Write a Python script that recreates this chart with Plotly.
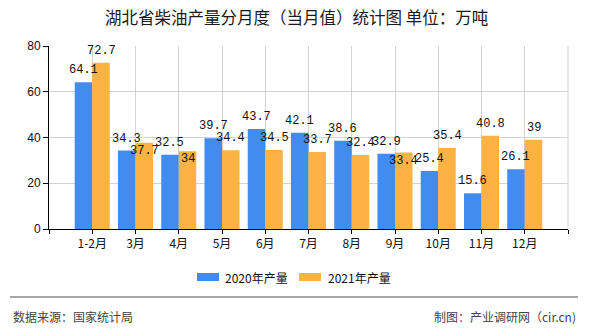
import plotly.graph_objects as go

categories = ["1-2月", "3月", "4月", "5月", "6月", "7月", "8月", "9月", "10月", "11月", "12月"]
values_2020 = [64.1, 34.3, 32.5, 39.7, 43.7, 42.1, 38.6, 32.9, 25.4, 15.6, 26.1]
values_2021 = [72.7, 37.7, 34, 34.4, 34.5, 33.7, 32.4, 33.4, 35.4, 40.8, 39]
series_names = ["2020年产量", "2021年产量"]
colors = ["#428BEF", "#FCB344"]
y_ticks = [0, 20, 40, 60, 80]

W, H = 590, 330
L, R, T, B = 49, 568, 46, 229  # plot area in pixels


def px(xp):
    return (xp - L) / (R - L)


def py(yp):
    return (B - yp) / (B - T)


BARGAP = 0.19
xs = list(range(len(categories)))

fig = go.Figure()
for name, vals, col in zip(series_names, [values_2020, values_2021], colors):
    fig.add_trace(go.Bar(x=xs, y=vals, name=name, marker=dict(color=col, line=dict(width=0)),
                         showlegend=False))

# value labels
half = (1 - BARGAP) / 4
label_font = dict(family="Liberation Mono, DejaVu Sans Mono, monospace", size=12, color="#111")
annotations = []
for i, (a, b) in enumerate(zip(values_2020, values_2021)):
    annotations.append(dict(x=i - half, y=a, text=str(a), showarrow=False, xref="x", yref="y",
                            yanchor="middle", yshift=12, font=label_font))
    collide = abs(a - b) < 5
    annotations.append(dict(x=i + half, y=b, text=str(b), showarrow=False, xref="x", yref="y",
                            yanchor="middle", yshift=-8 if collide else 12, font=label_font))

cjk = "Noto Sans CJK SC, sans-serif"
# title
annotations.append(dict(x=px(296), y=py(17), xref="paper", yref="paper", text="湖北省柴油产量分月度（当月值）统计图 单位：万吨",
                        showarrow=False, xanchor="center", yanchor="middle",
                        font=dict(family=cjk, size=16.5, color="#1a1a1a")))
# legend texts
leg = [(197, 219, 223), (299, 321, 326)]
shapes = []
for (x0, x1, xt), name, col in zip(leg, series_names, colors):
    shapes.append(dict(type="rect", xref="paper", yref="paper", x0=px(x0), x1=px(x1),
                       y0=py(281), y1=py(273), fillcolor=col, line=dict(width=0)))
    annotations.append(dict(x=px(xt), y=py(277), xref="paper", yref="paper", text=name, showarrow=False,
                            xanchor="left", yanchor="middle", font=dict(family=cjk, size=12, color="#111")))
# right border line
shapes.append(dict(type="line", xref="paper", yref="paper", x0=1, x1=1, y0=0, y1=1,
                   line=dict(color="#D3D3D3", width=1)))
# footer separator
shapes.append(dict(type="line", xref="paper", yref="paper", x0=px(10), x1=px(578), y0=py(297), y1=py(297),
                   line=dict(color="#888888", width=1.5)))
annotations.append(dict(x=px(11), y=py(316), xref="paper", yref="paper", text="数据来源：国家统计局", showarrow=False,
                        xanchor="left", yanchor="middle", font=dict(family=cjk, size=12, color="#444")))
annotations.append(dict(x=px(578), y=py(316), xref="paper", yref="paper", text="制图：产业调研网（cir.cn)", showarrow=False,
                        xanchor="right", yanchor="middle", font=dict(family=cjk, size=12, color="#444")))

tickvals = [-1] + xs + [len(categories)]
ticktext = [""] + categories + [""]

fig.update_layout(
    width=W, height=H, autosize=False,
    margin=dict(l=L, r=W - R, t=T, b=H - B, pad=0),
    paper_bgcolor="white", plot_bgcolor="white",
    barmode="group", bargap=BARGAP, bargroupgap=0,
    annotations=annotations, shapes=shapes,
    xaxis=dict(range=[-1, len(categories)], tickvals=tickvals, ticktext=ticktext,
               showgrid=True, gridcolor="#D3D3D3", gridwidth=1,
               showline=True, linecolor="#000", linewidth=1,
               ticks="outside", ticklen=4, tickcolor="#000",
               tickfont=dict(family=cjk, size=12, color="#111"), zeroline=False, fixedrange=True),
    yaxis=dict(range=[0, 80], tickvals=y_ticks, showgrid=True, gridcolor="#D3D3D3", gridwidth=1,
               showline=True, linecolor="#000", linewidth=1,
               ticks="outside", ticklen=5, tickcolor="#000",
               tickfont=dict(family="Liberation Sans, Arial, sans-serif", size=12, color="#111"),
               zeroline=False, fixedrange=True),
)

fig.write_html("out.html")
